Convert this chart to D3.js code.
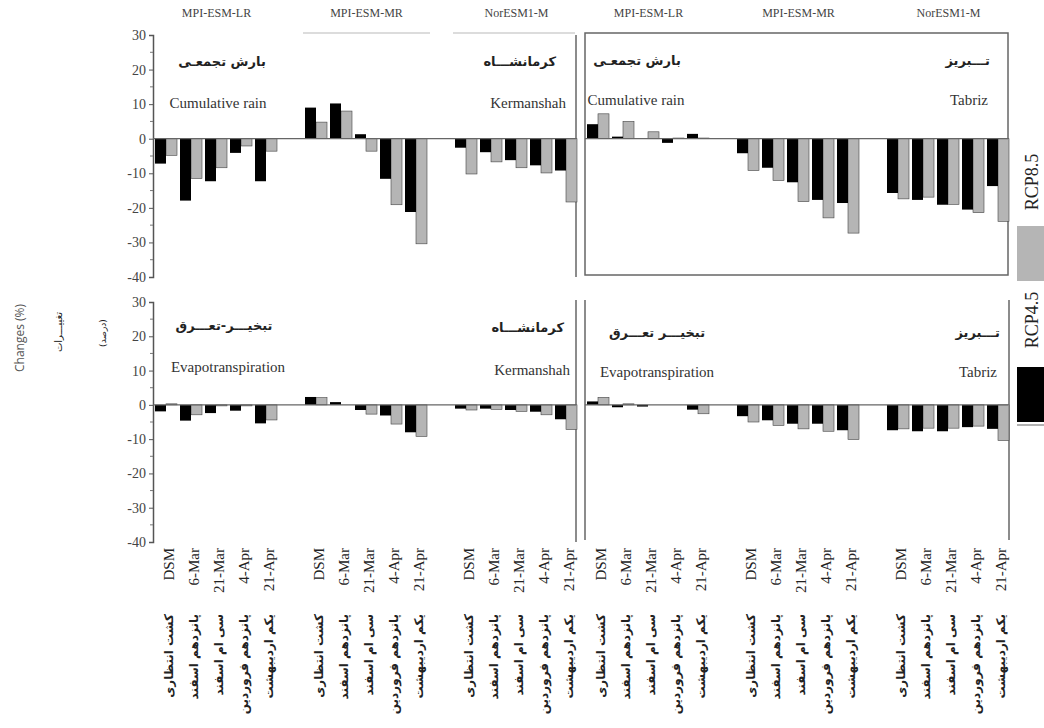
<!DOCTYPE html>
<html>
<head>
<meta charset="utf-8">
<script src="https://cdn.jsdelivr.net/npm/d3@7"></script>
<style>
  body { margin: 0; background: #fff; }
  svg { display: block; }
  .serif { font-family: "Liberation Serif", "DejaVu Serif", serif; fill: #333; }
  .fa { font-family: "DejaVu Sans", "Noto Sans", sans-serif; fill: #222; }
</style>
</head>
<body>
<svg id="chart" width="1044" height="728"></svg>
<script>
// categories (sowing dates) and models
var categories = ["DSM", "6-Mar", "21-Mar", "4-Apr", "21-Apr"];
var categoriesFa = ["کشت انتظاری", "پانزدهم اسفند", "سی ام اسفند", "پانزدهم فروردین", "یکم اردیبهشت"];
var models = ["MPI-ESM-LR", "MPI-ESM-MR", "NorESM1-M"];
var yTicks = [30, 20, 10, 0, -10, -20, -30, -40];

// values: one row of 5 dates per model
var kerRain45 = [[-7.2, -17.9, -12.3, -4.1, -12.3], [9.0, 10.2, 1.3, -11.6, -21.2], [-2.6, -3.9, -6.2, -7.7, -9.2]];
var kerRain85 = [[-4.8, -11.5, -8.4, -2.1, -3.6], [4.8, 8.0, -3.6, -19.1, -30.4], [-10.2, -6.7, -8.4, -9.9, -18.3]];
var tabRain45 = [[4.2, 0.6, 0, -1.2, 1.4], [-4.2, -8.4, -12.6, -17.7, -18.6], [-15.7, -17.7, -19.1, -20.5, -13.7]];
var tabRain85 = [[7.2, 5.0, 2.0, 0.2, 0.2], [-9.2, -12.1, -18.2, -22.9, -27.3], [-17.4, -16.9, -19.0, -21.4, -23.9]];
var kerEt45 = [[-1.9, -4.6, -2.4, -1.7, -5.4], [2.3, 0.8, -1.5, -3.1, -8.0], [-1.1, -1.1, -1.5, -2.0, -4.2]];
var kerEt85 = [[0.3, -2.9, -0.3, -0.3, -4.4], [2.1, 0, -2.7, -5.6, -9.2], [-1.5, -1.3, -1.9, -2.9, -7.2]];
var tabEt45 = [[1.0, -0.7, -0.5, 0, -1.4], [-3.3, -4.5, -5.5, -5.5, -7.4], [-7.4, -7.7, -7.7, -6.5, -7.0]];
var tabEt85 = [[2.2, 0.3, 0, 0, -2.6], [-5.0, -6.0, -7.0, -7.7, -10.1], [-7.0, -6.8, -6.8, -6.2, -10.4]];

var svg = d3.select("#chart");

// 17 slots per half: 5 dates per model + one empty slot between models
var xLeft = d3.scaleLinear().domain([0, 17]).range([154, 579]);
var xRight = d3.scaleLinear().domain([0, 17]).range([586, 1011]);
var yTop = d3.scaleLinear().domain([-40, 30]).range([277, 35]);
var yBot = d3.scaleLinear().domain([-40, 30]).range([542, 302]);

function slot(m, c) { return m * 6 + c; }

function flat(a45, a85) {
    var out = [];
    a45.forEach(function (row, m) {
        row.forEach(function (v, c) {
            out.push({ m: m, c: c, v45: v, v85: a85[m][c] });
        });
    });
    return out;
}

function drawBars(x, y, a45, a85) {
    var g = svg.append("g");
    var data = flat(a45, a85);
    var w = (x(1) - x(0)) * 0.44;
    g.selectAll("rect.r85")
        .data(data)
        .enter().append("rect")
        .attr("x", function (d) { return x(slot(d.m, d.c)) + 1 + w; })
        .attr("y", function (d) { return y(Math.max(0, d.v85)); })
        .attr("width", w)
        .attr("height", function (d) { return Math.abs(y(d.v85) - y(0)); })
        .style("fill", "#b5b5b5")
        .style("stroke", "#444")
        .style("stroke-width", 0.6);
    g.selectAll("rect.r45")
        .data(data)
        .enter().append("rect")
        .attr("x", function (d) { return x(slot(d.m, d.c)) + 1; })
        .attr("y", function (d) { return y(Math.max(0, d.v45)); })
        .attr("width", w)
        .attr("height", function (d) { return Math.abs(y(d.v45) - y(0)); })
        .style("fill", "#000");
    // zero line
    g.append("line")
        .attr("x1", x(0) - 1).attr("x2", x(17) - 3)
        .attr("y1", y(0)).attr("y2", y(0))
        .style("stroke", "#666").style("stroke-width", 1.2);
}

function line(x1, y1, x2, y2, col, sw) {
    svg.append("line")
        .attr("x1", x1).attr("y1", y1).attr("x2", x2).attr("y2", y2)
        .style("stroke", col || "#666").style("stroke-width", sw || 1.5);
}

function yAxis(y) {
    var ax = svg.append("g")
        .attr("transform", "translate(153,0)")
        .call(d3.axisLeft(y).tickValues(yTicks).tickSize(4).tickPadding(3)
            .tickFormat(function (d) { return String(d); }));
    ax.select(".domain").style("stroke", "#555").style("stroke-width", 1.5);
    ax.selectAll(".tick line").style("stroke", "#555");
    ax.selectAll(".tick text")
        .attr("class", "serif")
        .style("font-size", "14px")
        .style("fill", "#444");
    // minor ticks
    svg.append("g").selectAll("line")
        .data(d3.range(-35, 30, 10))
        .enter().append("line")
        .attr("x1", 150).attr("x2", 153)
        .attr("y1", function (d) { return y(d); })
        .attr("y2", function (d) { return y(d); })
        .style("stroke", "#777");
}

// panel frames
yAxis(yTop);
yAxis(yBot);
line(576, yTop(30), 576, yTop(-40));
line(xLeft(6) - 1, 33, xLeft(11) + 1, 33, "#d0d0d0", 1.5);
line(xLeft(12) - 1, 33, 575, 33, "#d0d0d0", 1.5);
svg.append("rect")
    .attr("x", 585).attr("y", 33).attr("width", 423).attr("height", 242)
    .style("fill", "none").style("stroke", "#666").style("stroke-width", 1.5);
line(576, 300, 576, yBot(-40));
line(585, 300, 585, 540);
line(1009, 300, 1009, 540);

drawBars(xLeft, yTop, kerRain45, kerRain85);
drawBars(xRight, yTop, tabRain45, tabRain85);
drawBars(xLeft, yBot, kerEt45, kerEt85);
drawBars(xRight, yBot, tabEt45, tabEt85);

// model names on top
[xLeft, xRight].forEach(function (x) {
    svg.append("g").selectAll("text")
        .data(models)
        .enter().append("text")
        .attr("class", "serif")
        .attr("x", function (d, i) { return x(slot(i, 2.5)); })
        .attr("y", 17)
        .attr("text-anchor", "middle")
        .style("font-size", "12px")
        .style("fill", "#444")
        .text(function (d) { return d; });
});

// panel labels
function label(txt, x, y, anchor, fa) {
    svg.append("text")
        .attr("class", fa ? "fa" : "serif")
        .attr("x", x).attr("y", y)
        .attr("dy", "0.35em")
        .attr("text-anchor", anchor)
        .style("font-size", fa ? "13px" : "15px")
        .style("font-weight", fa ? "bold" : "normal")
        .text(txt);
}
label("بارش تجمعـی", 222, 61, "middle", true);
label("Cumulative rain", 218, 103, "middle");
label("کرمانشـــاه", 556, 61, "end", true);
label("Kermanshah", 566, 103, "end");
label("بارش تجمعـی", 637, 60, "middle", true);
label("Cumulative rain", 636, 100, "middle");
label("تـــبریز", 990, 60, "end", true);
label("Tabriz", 988, 100, "end");
label("تبخیـــر-تعـــرق", 224, 325, "middle", true);
label("Evapotranspiration", 228, 367, "middle");
label("کرمانشـــاه", 564, 327, "end", true);
label("Kermanshah", 570, 370, "end");
label("تبخیـــر تعـــرق", 657, 332, "middle", true);
label("Evapotranspiration", 657, 372, "middle");
label("تـــبریز", 1000, 332, "end", true);
label("Tabriz", 997, 372, "end");

// x labels, rotated
var xl = [];
[xLeft, xRight].forEach(function (x) {
    models.forEach(function (mod, m) {
        categories.forEach(function (c, i) {
            xl.push({ x: x(slot(m, i) + 0.5) + 2, en: c, fa: categoriesFa[i] });
        });
    });
});
var lab = svg.append("g").selectAll("g")
    .data(xl)
    .enter().append("g");
lab.append("text")
    .attr("class", "serif")
    .attr("transform", function (d) { return "translate(" + d.x + ",548) rotate(-90)"; })
    .attr("dy", "0.35em")
    .attr("text-anchor", "end")
    .style("font-size", "15px")
    .style("fill", "#222")
    .text(function (d) { return d.en; });
lab.append("text")
    .attr("class", "fa")
    .attr("transform", function (d) { return "translate(" + d.x + ",614) rotate(-90)"; })
    .attr("dy", "0.35em")
    .attr("text-anchor", "end")
    .style("font-size", "12px")
    .style("font-weight", "bold")
    .text(function (d) { return d.fa; });

// y titles
svg.append("text")
    .attr("transform", "translate(20,338) rotate(-90)")
    .attr("dy", "0.35em")
    .attr("text-anchor", "middle")
    .style("font-family", "'Open Sans', sans-serif")
    .style("font-size", "12px")
    .style("fill", "#555")
    .text("Changes (%)");
svg.append("text")
    .attr("class", "fa")
    .attr("transform", "translate(58,332) rotate(-90)")
    .attr("dy", "0.35em")
    .attr("text-anchor", "middle")
    .style("font-size", "10px")
    .text("تغییـــرات");
svg.append("text")
    .attr("class", "fa")
    .attr("transform", "translate(103,333) rotate(-90)")
    .attr("dy", "0.35em")
    .attr("text-anchor", "middle")
    .style("font-size", "9px")
    .text("(درصد)");

// legend
svg.append("rect").attr("x", 1017).attr("y", 226).attr("width", 30).attr("height", 55).style("fill", "#b5b5b5");
svg.append("rect").attr("x", 1017).attr("y", 367).attr("width", 30).attr("height", 55).style("fill", "#000");
line(1017, 425, 1044, 425, "#999", 1.5);
svg.append("text")
    .attr("class", "serif")
    .attr("transform", "translate(1032,182) rotate(-90)")
    .attr("dy", "0.35em")
    .attr("text-anchor", "middle")
    .style("font-size", "18px")
    .style("fill", "#222")
    .text("RCP8.5");
svg.append("text")
    .attr("class", "serif")
    .attr("transform", "translate(1032,320) rotate(-90)")
    .attr("dy", "0.35em")
    .attr("text-anchor", "middle")
    .style("font-size", "18px")
    .style("fill", "#222")
    .text("RCP4.5");
</script>
</body>
</html>
